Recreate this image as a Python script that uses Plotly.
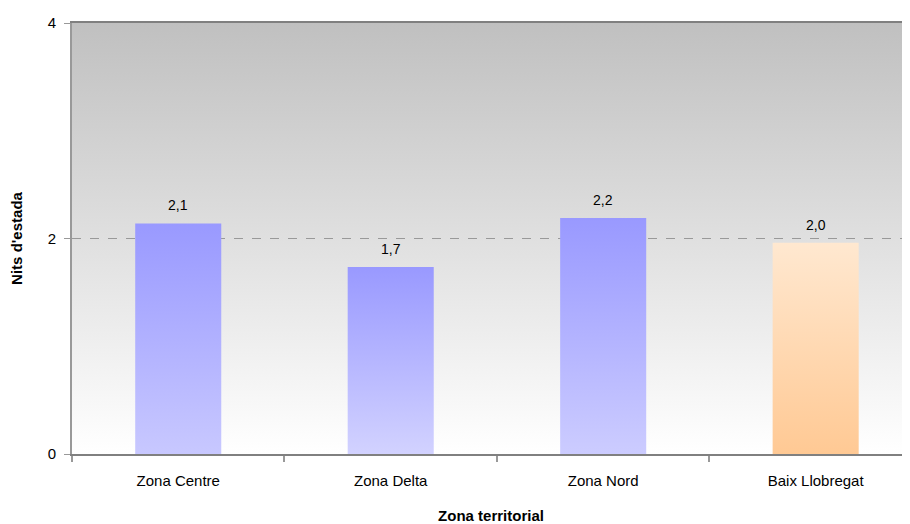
import base64
import plotly.graph_objects as go

categories = ["Zona Centre", "Zona Delta", "Zona Nord", "Baix Llobregat"]
values = [2.14, 1.735, 2.19, 1.96]
labels = ["2,1", "1,7", "2,2", "2,0"]
top_colors = ["#9999ff", "#9999ff", "#9999ff", "#ffe8d0"]
bottom_colors = ["#c8c8ff", "#d2d2ff", "#ccccff", "#ffc994"]
y_ticks = [0, 2, 4]

BAR_W = 0.405
FONT = "Liberation Sans, Arial, sans-serif"

fig = go.Figure()
for i, (cat, v) in enumerate(zip(categories, values)):
    x0, x1 = i - BAR_W / 2, i + BAR_W / 2
    fig.add_trace(go.Scatter(
        x=[x0, x1, x1, x0, x0], y=[0, 0, v, v, 0],
        mode="lines", fill="toself", line=dict(width=0),
        fillgradient=dict(type="vertical", start=0, stop=v,
                          colorscale=[[0, bottom_colors[i]], [1, top_colors[i]]]),
        hoverinfo="skip", showlegend=False,
    ))
    fig.add_annotation(x=i, y=v, text=labels[i], showarrow=False,
                       yshift=18, font=dict(family=FONT, size=14, color="#000"))

svg = ("<svg xmlns='http://www.w3.org/2000/svg' width='100' height='100' preserveAspectRatio='none'>"
       "<defs><linearGradient id='g' x1='0' y1='0' x2='0' y2='1'>"
       "<stop offset='0' stop-color='#c0c0c0'/><stop offset='1' stop-color='#ffffff'/>"
       "</linearGradient></defs><rect width='100' height='100' fill='url(#g)'/></svg>")
src = "data:image/svg+xml;base64," + base64.b64encode(svg.encode()).decode()
fig.add_layout_image(source=src, xref="paper", yref="paper", x=0, y=1, sizex=1, sizey=1,
                     sizing="stretch", xanchor="left", yanchor="top", layer="below")

fig.update_layout(
    width=902, height=516,
    margin=dict(l=64, r=0, t=15, b=70),
    paper_bgcolor="#ffffff", plot_bgcolor="rgba(0,0,0,0)",
    font=dict(family=FONT, size=15, color="#000"),
    xaxis=dict(
        range=[-0.5, 3.444], tickvals=list(range(len(categories))), ticktext=categories,
        ticks="", showgrid=False, zeroline=False,
        showline=True, linecolor="#808080", linewidth=2, mirror=True,
        tickfont=dict(size=15), ticklabelstandoff=12,
        minor=dict(tickvals=[-0.5, 0.5, 1.5, 2.5, 3.5], ticks="outside", ticklen=6,
                   tickcolor="#999999", tickwidth=2, showgrid=False),
        title=dict(text="<b>Zona territorial</b>", font=dict(size=15), standoff=22),
    ),
    yaxis=dict(
        range=[0, 4], tickvals=y_ticks, ticks="outside", ticklen=6, tickcolor="#999999",
        tickwidth=1, ticklabelstandoff=5,
        showline=True, linecolor="#999999", linewidth=2, zeroline=False,
        showgrid=True, gridcolor="#999999", griddash="dash", gridwidth=1,
        tickfont=dict(size=15),
        title=dict(text="<b>Nits d'estada</b>", font=dict(size=15), standoff=23),
    ),
)

fig.write_html("out.html")
